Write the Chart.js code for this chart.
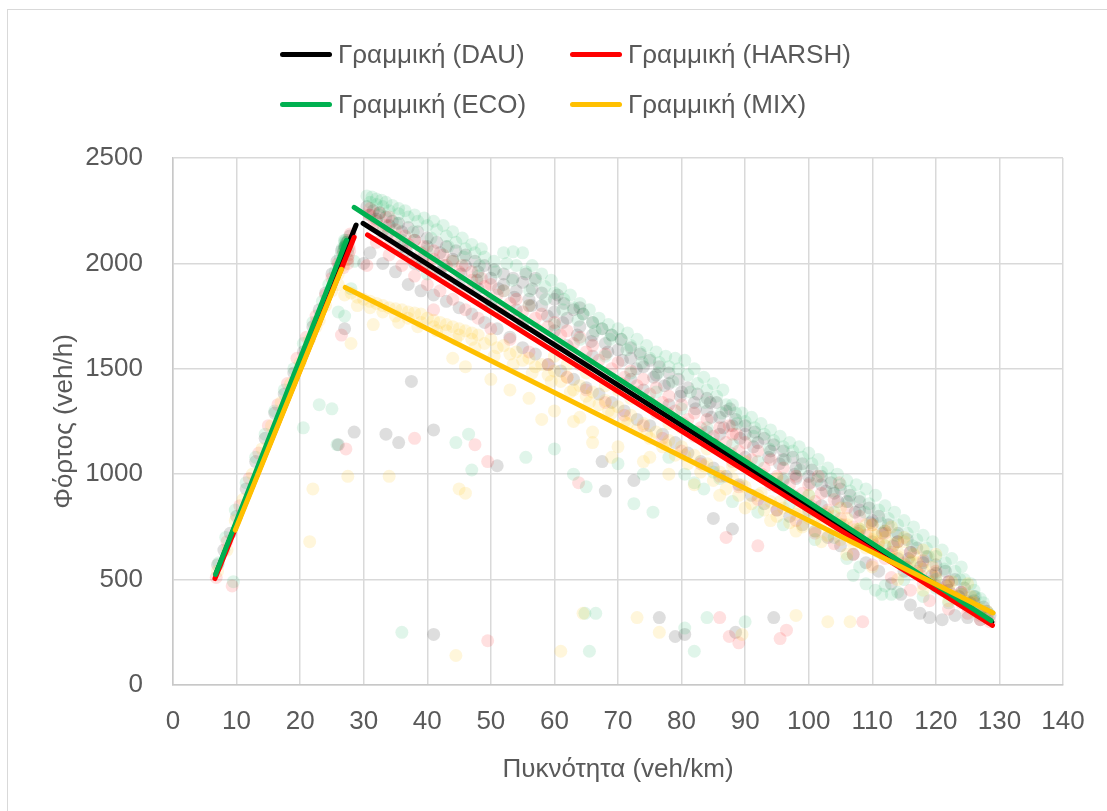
<!DOCTYPE html>
<html lang="el">
<head>
<meta charset="utf-8">
<title>Φόρτος - Πυκνότητα</title>
<script src="https://cdn.jsdelivr.net/npm/chart.js@4.4.1/dist/chart.umd.min.js"></script>
<style>
  html, body { margin: 0; padding: 0; background: #fff; }
  #wrap { position: relative; width: 1107px; height: 811px; overflow: hidden; }
  #frame { position: absolute; left: 7px; top: 9px; width: 1130px; height: 830px; border: 1px solid #d9d9d9; }
  #chart { position: absolute; left: 0; top: 0; }
  #legend {
    position: absolute; left: 280px; top: 29px;
    display: grid; grid-template-columns: 290px 290px;
    font-family: 'Liberation Sans', Arial, sans-serif;
    font-size: 26px; color: #595959;
  }
  #legend .item { display: flex; align-items: center; height: 50px; white-space: nowrap; }
  #legend .swatch { width: 52px; height: 5px; border-radius: 3px; margin-right: 6px; }
</style>
</head>
<body>
<div id="wrap">
  <div id="frame"></div>
  <canvas id="chart" width="1107" height="811"></canvas>
  <div id="legend"></div>
</div>
<script>
// density (veh/km), flow (veh/h) measurements per driver profile
const dauPoints = [
  [7.0,570],[8.0,640],[9.0,720],[10.0,800],[11.5,930],[13.0,1060],[14.5,1170],[16.0,1290],[17.5,1380],[19.0,1480],
  [20.5,1580],[22.0,1700],[23.0,1780],[24.0,1860],[25.0,1950],[25.8,2010],[26.5,2060],[27.0,2080],[27.4,2100],[27.8,2130],
  [26.2,1990],[27.0,1690],[26.0,1140],[28.5,1200],
  [30.5,2270],[31.5,2250],[32.5,2240],[33.5,2220],[34.5,2200],[35.5,2190],[37,2170],[38.5,2150],[40,2120],[41.5,2100],
  [43,2080],[44.5,2060],[46,2040],[47.5,2010],[49,1990],[50.5,1970],[52,1950],[53.5,1930],[55,1910],[56.5,1880],
  [58,1860],[60,1830],[61.5,1810],[63,1780],[64.5,1760],[66,1720],[67.5,1690],[69,1660],[70.5,1640],[72,1600],
  [73.5,1570],[75,1540],[76.5,1510],[78,1480],[79.5,1450],[81,1410],[82.5,1380],[84,1360],[85.5,1340],[87,1300],
  [88.5,1260],[90,1230],[91.5,1200],[93,1170],[94.5,1140],[96,1110],[97.5,1080],[99,1050],[100.5,1020],[102,990],
  [103.5,960],[105,930],[106.5,900],[108,870],[109.5,840],[111,800],[112.5,760],[114,720],[115.5,690],[117,650],
  [118.5,610],[120,570],[121.5,540],[123,500],[124.5,460],[126,420],[127.5,370],[128.5,330],
  [31,2230],[32,2210],[34,2180],[36,2150],[38,2110],[40,2080],[42,2050],[44,2020],[46,1990],[48,1960],
  [50,1930],[52,1900],[54,1870],[56,1830],[58,1800],[60,1770],[62,1740],[64,1700],[66,1660],[68,1620],
  [70,1590],[72,1550],[74,1510],[76,1470],[78,1430],[80,1390],[82,1340],[84,1300],[86,1270],[88,1230],
  [90,1190],[92,1150],[94,1110],[96,1070],[98,1030],[100,990],[102,950],[104,910],[106,870],[108,830],
  [110,780],[112,730],[114,680],[116,630],[118,580],[120,530],[122,490],[124,440],[126,400],[128,350],
  [31,2050],[33,2000],[35,1960],[37,1900],[39,1870],[41,1850],[43,1820],[45,1790],[47,1760],[49,1720],
  [51,1690],[53,1650],[55,1600],[57,1570],[59,1520],[61,1490],[63,1450],[65,1410],[67,1380],[69,1340],
  [71,1300],[73,1260],[75,1230],[77,1190],[79,1150],[81,1100],[83,1060],[85,1030],[87,990],[89,950],
  [91,900],[93,860],[95,830],[97,800],[99,760],[101,730],[103,700],[105,660],[107,620],[109,580],
  [111,540],[113,480],[114.5,430],[116,380],[117.5,340],[119,320],[121,310],[123,330],[125,320],[127,310],
  [36,2080],[42,1960],[48,1880],[54,1780],[60,1680],[66,1560],[72,1450],[78,1330],[84,1200],[90,1080],
  [96,970],[102,850],[108,730],[114,600],[120,470],[126,360],
  [45,1900],[55,1720],[65,1530],[75,1340],[85,1140],[95,940],[105,740],[115,540],[125,380],
  [38,2000],[50,1820],[62,1610],[74,1400],[86,1190],[98,980],[110,680],[122,450],
  [33.8,2140],[36.7,2060],[39.4,2030],[42.6,1990],[45.3,1950],[47.8,1920],[51.2,1880],[53.7,1840],[56.4,1800],[58.9,1750],
  [61.3,1720],[63.6,1660],[65.8,1630],[68.4,1580],[70.7,1540],[72.9,1500],[75.6,1460],[77.3,1420],[79.8,1370],[82.2,1310],
  [84.7,1270],[86.6,1220],[89.2,1170],[91.3,1130],[93.7,1080],[95.4,1050],[97.8,1000],[100.2,960],[102.7,920],[104.6,870],
  [107.3,820],[109.7,770],[111.6,720],[113.3,660],[115.7,600],[117.6,560],[119.4,520],[121.7,470],[123.6,420],[125.4,390],
  [60.5,1850],[64,1790],[84.5,1340],[87.6,1310],[57,1930],[55.5,1950],
  [37.5,1440],[33.5,1190],[35.5,1150],[41,1210],[51,1040],[67.5,1060],[68,920],[72.5,970],[85,790],[88,740],
  [76.5,320],[79,230],[80.5,240],[41,240],[94.5,320],[88.5,250],[30,2000],[39,1990]
];

const harshPoints = [
  [6.8,510],[9.3,470],[8.5,680],[10.5,850],[12,980],[13.5,1100],[15,1230],[16.5,1330],[18,1430],[19.5,1550],
  [21,1650],[22.5,1720],[24,1850],[25,1930],[26,2000],[26.8,2050],[27.2,2080],[27.6,2110],[27.9,2140],[26.8,1980],
  [27.5,2020],[26.5,1660],[27.2,1120],[22.5,1750],[27.4,2020],[27.6,2040],[27.8,2060],[27.5,2000],[27.7,2080],
  [30.8,2230],[32,2200],[33.5,2180],[35,2160],[36.5,2130],[38,2110],[39.5,2080],[41,2060],[42.5,2040],[44,2010],
  [45.5,1990],[47,1960],[48.5,1930],[50,1900],[52,1870],[54,1830],[56,1800],[58,1760],[60,1720],[62,1680],
  [64,1650],[66,1610],[68,1570],[70,1530],[72,1490],[74,1450],[76,1410],[78,1370],[80,1330],[82,1290],
  [84,1260],[86,1220],[88,1190],[90,1150],[92,1110],[94,1070],[96,1030],[98,990],[100,950],[102,910],
  [104,880],[106,840],[108,800],[110,760],[112,720],[114,680],[116,630],[118,590],[120,540],[122,490],
  [124,440],[126,390],[128,330],
  [31.5,2180],[33,2150],[35,2120],[37,2090],[39,2050],[41,2020],[43,1990],[45,1960],[47,1920],[49,1890],
  [51,1850],[53,1810],[55,1770],[57,1740],[59,1700],[61,1660],[63,1620],[65,1580],[67,1540],[69,1500],
  [71,1460],[73,1420],[75,1380],[77,1340],[79,1300],[81,1260],[83,1220],[85,1180],[87,1150],[89,1110],
  [91,1070],[93,1030],[95,990],[97,950],[99,910],[101,870],[103,830],[105,790],[107,750],[109,710],
  [111,670],[113,630],[115,580],[117,540],[119,490],[121,450],[123,410],[125,370],[127,330],[128.5,300],
  [31,2260],[32.5,2240],[34,2220],
  [32,2100],[34,2040],[36,1990],[38,1940],[40,1900],[42,1870],[44,1830],[46,1780],[48,1740],[50,1690],
  [53,1640],[56,1580],[59,1520],[62,1460],[65,1400],[68,1340],[71,1280],[74,1230],[77,1170],[80,1110],
  [83,1050],[86,990],[89,940],[92,880],[95,830],[98,780],[101,720],[104,670],[107,620],[110,570],
  [113,510],[116,450],[119,400],[122,360],[125,340],[127,310],
  [40,2000],[52,1760],[64,1520],[76,1290],[88,1060],[100,830],[112,600],[124,390],
  [58,1640],[70,1410],[82,1180],[94,950],[106,720],[118,480],
  [34.2,2090],[37.6,2020],[40.7,1960],[43.5,1920],[46.4,1870],[48.9,1820],[51.6,1790],[54.3,1740],[57.2,1690],[60.4,1620],
  [62.7,1580],[65.6,1520],[67.8,1480],[70.5,1430],[72.6,1390],[75.4,1330],[77.8,1290],[80.3,1240],[82.6,1200],[85.3,1140],
  [87.7,1100],[90.4,1040],[92.6,1000],[95.3,940],[97.6,900],[100.4,850],[102.6,810],[105.4,760],[107.7,720],[110.3,660],
  [112.6,620],[115.4,560],[117.6,520],[120.3,470],[122.6,430],[124.7,400],
  [87.5,1230],[88.6,1190],[101.5,990],[104.8,960],
  [38,1170],[47.5,1140],[49.5,1060],[63.8,960],[49.5,210],[86,320],[87.5,230],[89,200],[96.5,260],[95.5,220],
  [108.5,300],[92,660],[87,700],[30.5,1990],[41,1780]
];

const ecoPoints = [
  [7.2,580],[9.5,490],[8.3,700],[9.8,830],[11.5,960],[13,1080],[14.5,1190],[16,1300],[17.5,1400],[19,1500],
  [20.5,1620],[22,1720],[23.5,1820],[24.5,1900],[25.5,1960],[26.3,2030],[26.8,2060],[27.1,2080],[27.3,2100],[27.0,2110],
  [26.6,2070],[27.5,2060],[27.0,2070],[27.1,2085],[27.2,2095],[27.0,2100],[27.3,2080],[26.9,2060],[27.2,2110],[27.1,2075],
  [20.5,1220],[23,1330],[25,1310],[25.8,1140],[27,1750],[28.5,2010],[28,1880],[26,1770],
  [30.5,2320],[31.3,2315],[32,2305],[32.8,2300],[33.5,2290],[34.5,2275],[35.5,2260],[36.5,2250],[38,2230],[39.5,2215],
  [41,2200],[42.5,2180],[44,2150],[45.5,2120],[47,2090],[48.5,2070],[52,2050],[53.5,2055],[55,2050],[56.5,1990],
  [58,1950],[59.5,1920],[61,1880],[62.5,1850],[64,1810],[65.5,1780],[67,1740],[68.5,1710],[70,1690],[71.5,1670],
  [73,1640],[74.5,1610],[76,1580],[77.5,1560],[79,1550],[80.5,1540],[82,1500],[83.5,1460],[85,1430],[86.5,1400],
  [88,1330],[89.5,1290],[91,1270],[92.5,1240],[94,1210],[95.5,1180],[97,1150],[98.5,1130],[100,1100],[101.5,1070],
  [103,1030],[104.5,1000],[106,970],[107.5,950],[109,930],[110.5,900],[112,850],[113.5,820],[115,780],[116.5,750],
  [118,710],[119.5,680],[121,640],[122.5,600],[124,560],[125.5,480],[127,410],[128.3,340],
  [31,2290],[32,2280],[33,2270],[34,2250],[35.5,2235],[37,2220],[38.5,2200],[40,2180],[41.5,2160],[43,2130],
  [44.5,2100],[46,2070],[47.5,2050],[49,2030],[50.5,2010],[52.5,2000],[54,1990],[55.5,1960],[57,1920],[58.5,1890],
  [60,1860],[61.5,1830],[63,1790],[64.5,1760],[66,1720],[67.5,1690],[69,1660],[70.5,1640],[72,1610],[73.5,1580],
  [75,1550],[76.5,1530],[78,1510],[79.5,1500],[81,1470],[82.5,1430],[84,1400],[85.5,1370],[87,1330],[88.5,1290],
  [90,1250],[91.5,1220],[93,1190],[94.5,1160],[96,1130],[97.5,1110],[99,1080],[100.5,1050],[102,1010],[103.5,980],
  [105,950],[106.5,920],[108,890],[109.5,860],[111,830],[112.5,790],[114,760],[115.5,720],[117,690],[118.5,650],
  [120,610],[121.5,580],[123,540],[124.5,500],[126,450],[127.5,390],
  [33,2160],[36,2110],[40,2060],[44,2010],[48,1940],[52,1870],[56,1800],[60,1710],[64,1640],[68,1560],
  [72,1480],[76,1390],[80,1310],[84,1220],[88,1140],[92,1060],[96,980],[100,900],[104,820],[108,740],
  [112,660],[116,580],[120,500],[124,430],[127,350],
  [40,1950],[50,1800],[60,1600],[70,1420],[80,1230],[90,1040],[100,850],[110,650],[120,460],
  [55,1700],[65,1520],[75,1330],[85,1140],[95,950],[105,760],[115,560],[125,400],
  [32.4,2230],[35.2,2190],[37.8,2150],[40.6,2120],[43.3,2080],[45.7,2030],[48.2,1990],[50.8,1960],[53.4,1920],[56.1,1870],
  [58.6,1830],[61.3,1780],[63.7,1730],[66.4,1680],[68.7,1640],[71.4,1590],[73.8,1530],[76.3,1480],[78.6,1440],[81.4,1390],
  [83.7,1340],[86.3,1290],[88.7,1240],[91.3,1180],[93.8,1120],[96.3,1070],[98.7,1020],[101.3,970],[103.8,920],[106.3,870],
  [108.8,820],[111.3,770],[113.8,710],[116.3,660],[118.8,610],[121.3,550],[123.8,500],[126.2,420],
  [78,1080],[83.5,930],[88,870],[92,820],[96,760],[101,690],[106,600],[108,560],[112,470],[114,440],[118,420],[122,390],
  [80.5,1000],[82,960],[85,1010],[86,980],[74,1000],[70,1050],[110.5,450],[111.5,430],[109,480],[107,520],
  [63,1000],[60,1120],[75.5,820],[72.5,860],[65,940],[100,820],[97,860],[104,700],[113,430],[115,500],
  [36,250],[46.5,1190],[44.5,1150],[55.5,1080],[64.8,340],[66.5,340],[80.5,270],[82,160],[65.5,160],[84,320],
  [90,300],[47,1020]
];

const mixPoints = [
  [7,540],[8.5,640],[9.8,780],[11,880],[12.5,1000],[14,1120],[15.5,1230],[17,1340],[18.5,1430],[20,1530],
  [21.5,1640],[22.5,1700],[23,1730],[24,1800],[25,1870],[26,1950],[26.8,1990],[22,930],[21.5,680],[27.5,990],
  [27,1850],[28,1620],[26,1900],
  [28,1860],[29,1840],[30,1830],[31,1820],[32,1810],[33,1800],[34,1790],[35,1785],[36,1780],[37,1770],
  [38,1765],[39,1760],[40,1740],[41,1730],[42,1720],[43,1710],[44,1700],[45,1690],[46,1680],[47,1670],
  [48,1660],[50,1640],[52,1610],[54,1580],[56,1550],[58,1520],[60,1490],[62,1460],[64,1420],[66,1390],
  [68,1350],[70,1320],[72,1280],[74,1240],[76,1200],[78,1160],[80,1130],[82,1090],[84,1050],[86,1010],
  [88,980],[90,940],[92,900],[94,870],[96,840],[98,810],[100,790],[102,770],[104,750],[106,730],
  [108,710],[110,690],[112,660],[114,630],[116,590],[118,550],[120,510],[122,470],[124,430],[126,390],[128,350],
  [29,1800],[31,1790],[33,1770],[35,1750],[37,1740],[39,1720],[41,1700],[43,1680],[45,1660],[47,1640],
  [49,1620],[51,1600],[53,1570],[55,1540],[57,1510],[59,1470],[61,1440],[63,1400],[65,1370],[67,1330],
  [69,1290],[71,1250],[73,1210],[75,1170],[77,1130],[79,1090],[81,1050],[83,1010],[85,970],[87,930],
  [89,900],[91,860],[93,830],[95,800],[97,770],[99,750],[101,730],[103,710],[105,690],[107,670],
  [109,650],[111,630],[113,600],[115,570],[117,530],[119,490],[121,450],[123,420],[125,390],[127,360],
  [44,1550],[46,1510],[50,1450],[53,1400],[56,1360],[60,1300],[63,1250],[66,1200],[70,1130],[74,1060],
  [78,1000],[82,950],[86,900],[90,840],[94,780],[98,730],[102,680],[106,620],[110,560],[114,500],
  [118,450],[122,400],[126,350],
  [60,1560],[65,1480],[70,1400],[75,1330],[80,1220],[85,1140],[90,1060],[95,980],[100,900],[105,840],
  [110,760],[115,700],[120,620],[125,480],
  [35.5,1720],[38.5,1700],[41.5,1680],[44.5,1640],[47.5,1600],[50.5,1560],[53.5,1520],[56.5,1480],[59.5,1440],[62.5,1390],
  [65.5,1340],[68.5,1300],[71.5,1240],[74.5,1190],[77.5,1140],[80.5,1090],[83.5,1040],[86.5,990],[89.5,950],[92.5,910],
  [95.5,870],[98.5,830],[101.5,800],[104.5,770],[107.5,740],[110.5,710],[113.5,670],[116.5,620],[119.5,560],[122.5,490],
  [125.5,420],
  [103,820],[106,790],[109,760],[112,730],[115,680],[118,640],[107,690],[111,640],[114,610],[117,580],
  [108,740],[110,720],[112,700],[113,750],[111,680],[106,760],[104,800],
  [62,1520],[68,1420],[72,1360],[78,1240],[84,1120],[88,1040],
  [31.5,1710],[34,990],[44.5,140],[45,930],[46,910],[61,160],[64.5,340],[73,320],[89.5,240],[103,300],
  [106.5,300],[98,330],[76.5,250],[66,1150],[69,1080],[75,1080],[58,1260],[64,1270]
];

// linear trendlines: free-flow branch and congested branch
const dauTrendFree = [[6.8,530],[28.8,2182]];
const dauTrendCong = [[29.9,2190],[128.8,298]];
const harshTrendFree = [[6.6,505],[28.5,2124]];
const harshTrendCong = [[30.6,2135],[128.9,283]];
const ecoTrendFree = [[6.7,525],[27.3,2110]];
const ecoTrendCong = [[28.5,2266],[128.7,305]];
const mixTrendFree = [[9.8,735],[26.5,1972]];
const mixTrendCong = [[27.1,1886],[129.0,342]];

const seriesNames = ['DAU', 'HARSH', 'ECO', 'MIX'];
const lineColors = ['#000000', '#ff0000', '#00b050', '#ffc000'];
const dotColors = ['rgba(0,0,0,0.13)', 'rgba(255,0,0,0.12)', 'rgba(0,176,80,0.12)', 'rgba(255,192,0,0.14)'];

const xTicks = { min: 0, max: 140, step: 10 };
const yTicks = { min: 0, max: 2500, step: 500 };

const toXY = arr => arr.map(p => ({ x: p[0], y: p[1] }));

const pointSets = [dauPoints, harshPoints, ecoPoints, mixPoints];
const trendSets = [
  [dauTrendFree, dauTrendCong],
  [harshTrendFree, harshTrendCong],
  [ecoTrendFree, ecoTrendCong],
  [mixTrendFree, mixTrendCong]
];

const datasets = [];
// trendlines on top, MIX topmost
trendSets.forEach((pair, i) => {
  pair.forEach(seg => {
    datasets.push({
      label: 'Γραμμική (' + seriesNames[i] + ')',
      data: toXY(seg),
      showLine: true,
      borderColor: lineColors[i],
      borderWidth: 5,
      borderCapStyle: 'round',
      pointRadius: 0,
      pointHoverRadius: 0,
      order: 3 - i
    });
  });
});
pointSets.forEach((pts, i) => {
  datasets.push({
    label: seriesNames[i],
    data: toXY(pts),
    showLine: false,
    backgroundColor: dotColors[i],
    borderWidth: 0,
    pointRadius: 6.5,
    pointHoverRadius: 6.5,
    order: 10 + (3 - i)
  });
});

Chart.defaults.font.family = "'Liberation Sans', Arial, sans-serif";
Chart.defaults.font.size = 26;
Chart.defaults.color = '#595959';

const gridStyle = { color: '#d9d9d9', lineWidth: 1.5, drawTicks: false };

new Chart(document.getElementById('chart'), {
  type: 'scatter',
  data: { datasets },
  options: {
    responsive: false,
    animation: false,
    events: [],
    layout: { padding: { top: 158, right: 44, bottom: 0, left: 0 } },
    plugins: { legend: { display: false }, tooltip: { enabled: false } },
    scales: {
      x: {
        type: 'linear',
        min: xTicks.min, max: xTicks.max,
        ticks: { stepSize: xTicks.step, padding: 21, maxRotation: 0, callback: v => String(v) },
        grid: gridStyle,
        border: { color: '#c8c8c8', width: 1.5 },
        title: { display: true, text: 'Πυκνότητα (veh/km)', padding: { top: 0, bottom: 26 } },
        afterFit: s => { s.height = 126; }
      },
      y: {
        type: 'linear',
        min: yTicks.min, max: yTicks.max,
        ticks: { stepSize: yTicks.step, padding: 30, callback: v => String(v) },
        grid: gridStyle,
        border: { color: '#c8c8c8', width: 1.5 },
        title: { display: true, text: 'Φόρτος (veh/h)', padding: { top: 49, bottom: 0 } },
        afterFit: s => { s.width = 173; }
      }
    }
  }
});

// legend: 2 x 2 grid, DAU/HARSH then ECO/MIX
const legend = document.getElementById('legend');
seriesNames.forEach((name, i) => {
  const item = document.createElement('div');
  item.className = 'item';
  const sw = document.createElement('span');
  sw.className = 'swatch';
  sw.style.background = lineColors[i];
  const txt = document.createElement('span');
  txt.textContent = 'Γραμμική (' + name + ')';
  item.appendChild(sw);
  item.appendChild(txt);
  legend.appendChild(item);
});
</script>
</body>
</html>
